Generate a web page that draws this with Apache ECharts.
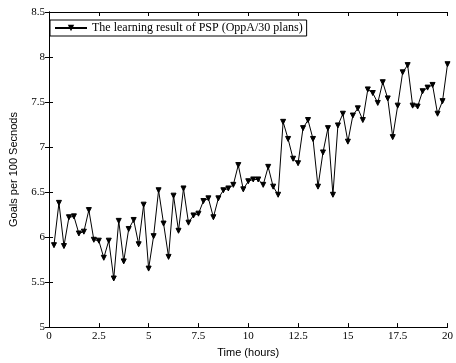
<!DOCTYPE html>
<html>
<head>
<meta charset="utf-8">
<script src="https://cdn.jsdelivr.net/npm/echarts@6/dist/echarts.min.js"></script>
<style>html,body{margin:0;padding:0;background:#fff}#c{width:456px;height:363px}</style>
</head>
<body>
<div id="c"></div>
<script>
const seriesName = 'The learning result of PSP (OppA/30 plans)';
const timeStep = 0.25;
const values = [
  5.91, 6.38, 5.90, 6.22, 6.23, 6.04, 6.06, 6.30, 5.97, 5.96,
  5.77, 5.96, 5.54, 6.18, 5.73, 6.09, 6.19, 5.92, 6.36, 5.65,
  6.01, 6.52, 6.15, 5.78, 6.46, 6.07, 6.54, 6.16, 6.24, 6.26,
  6.40, 6.43, 6.22, 6.43, 6.52, 6.54, 6.58, 6.80, 6.53, 6.62,
  6.64, 6.64, 6.58, 6.78, 6.56, 6.47, 7.28, 7.09, 6.87, 6.82,
  7.21, 7.30, 7.09, 6.56, 6.94, 7.21, 6.47, 7.24, 7.37, 7.06,
  7.35, 7.43, 7.30, 7.64, 7.60, 7.49, 7.72, 7.54, 7.11, 7.46,
  7.83, 7.91, 7.46, 7.45, 7.62, 7.66, 7.69, 7.37, 7.51, 7.92
];
const times = values.map((v, i) => +((i + 1) * timeStep).toFixed(2));
const xTicks = [0, 2.5, 5, 7.5, 10, 12.5, 15, 17.5, 20];
const yTicks = [5, 5.5, 6, 6.5, 7, 7.5, 8, 8.5];

const data = times.map((t, i) => [t, values[i]]);
const serif = '"Liberation Serif", "Times New Roman", serif';
const sans = '"Liberation Sans", Arial, sans-serif';
const tickStyle = { show: true, inside: true, length: 4, lineStyle: { color: '#000', width: 1 } };
const lineStyle = { show: true, lineStyle: { color: '#000', width: 1 } };

const chart = echarts.init(document.getElementById('c'), null, { renderer: 'canvas' });
chart.setOption({
  animation: false,
  backgroundColor: '#fff',
  grid: { left: 45, right: 5, top: 12, bottom: 32, containLabel: false },
  legend: {
    left: 50, top: 20,
    data: [seriesName],
    orient: 'horizontal',
    backgroundColor: '#fff',
    borderColor: '#000', borderWidth: 1,
    padding: [2, 4, 2, 4],
    itemWidth: 32, itemHeight: 8, itemGap: 4,
    textStyle: { fontFamily: serif, fontSize: 12, color: '#000' }
  },
  xAxis: [{
    type: 'value', min: xTicks[0], max: xTicks[xTicks.length - 1], interval: 2.5,
    axisLine: lineStyle, axisTick: tickStyle, splitLine: { show: false },
    axisLabel: { fontFamily: serif, fontSize: 11, color: '#000', margin: 4 },
    name: 'Time (hours)', nameLocation: 'middle', nameGap: 16,
    nameTextStyle: { fontFamily: sans, fontSize: 11, color: '#000' }
  }, {
    type: 'value', position: 'top', min: 0, max: 20, interval: 2.5,
    axisLine: lineStyle, axisTick: tickStyle, axisLabel: { show: false }, splitLine: { show: false }
  }],
  yAxis: [{
    type: 'value', min: yTicks[0], max: yTicks[yTicks.length - 1], interval: 0.5,
    axisLine: lineStyle, axisTick: tickStyle, splitLine: { show: false },
    axisLabel: { fontFamily: serif, fontSize: 11, color: '#000', margin: 4 },
    name: 'Goals per 100 Secnods', nameLocation: 'middle', nameGap: 30,
    nameTextStyle: { fontFamily: sans, fontSize: 11, color: '#000' }
  }, {
    type: 'value', position: 'right', min: 5, max: 8.5, interval: 0.5,
    axisLine: lineStyle, axisTick: tickStyle, axisLabel: { show: false }, splitLine: { show: false }
  }],
  series: [{
    name: seriesName,
    type: 'line',
    data: data,
    symbol: 'triangle',
    symbolRotate: 180,
    symbolSize: 5,
    showAllSymbol: true,
    lineStyle: { color: '#000', width: 1 },
    itemStyle: { color: '#000', borderColor: '#000' },
    color: '#000'
  }]
});
</script>
</body>
</html>
